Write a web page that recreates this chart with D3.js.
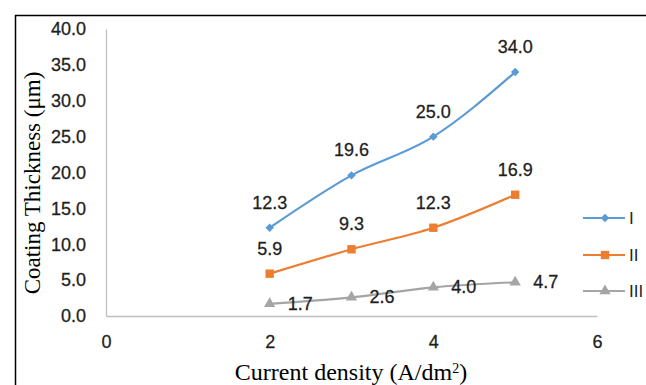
<!DOCTYPE html>
<html><head><meta charset="utf-8">
<script src="https://cdn.jsdelivr.net/npm/d3@7"></script>
<style>body{margin:0;background:#fff}svg{display:block}</style>
</head><body>
<svg id="c" width="646" height="385"></svg>
<script>
const xValues = [2, 3, 4, 5];
const seriesNames = ["I", "II", "III"];
const seriesI = [12.3, 19.6, 25.0, 34.0];
const seriesII = [5.9, 9.3, 12.3, 16.9];
const seriesIII = [1.7, 2.6, 4.0, 4.7];
const xTicks = [0, 2, 4, 6];
const yTicks = [0, 5, 10, 15, 20, 25, 30, 35, 40];
const colors = ["#5B9BD5", "#ED7D31", "#A5A5A5"];
const series = [seriesI, seriesII, seriesIII];

const svg = d3.select("#c");
const x = d3.scaleLinear().domain([0, 6]).range([106, 597]);
const y = d3.scaleLinear().domain([0, 40]).range([316, 29]);
const tickFont = "'Liberation Sans', Arial, sans-serif";
const serif = "'Liberation Serif', 'Times New Roman', serif";

// frame
svg.append("line").attr("x1",15.5).attr("x2",15.5).attr("y1",15).attr("y2",385).attr("stroke","#000").attr("stroke-width",1.5);
svg.append("line").attr("x1",15).attr("x2",646).attr("y1",15.5).attr("y2",15.5).attr("stroke","#000").attr("stroke-width",1.5);

// axes
const yAxis = svg.append("g").attr("transform","translate(106,0)")
  .call(d3.axisLeft(y).tickValues(yTicks).tickSize(0).tickPadding(20).tickFormat(d3.format(".1f")));
const xAxis = svg.append("g").attr("transform","translate(0,316)")
  .call(d3.axisBottom(x).tickValues(xTicks).tickSize(0).tickPadding(19).tickFormat(d3.format("d")));
[yAxis, xAxis].forEach(g => {
  g.select(".domain").attr("stroke","#BFBFBF").attr("stroke-width",1.3);
  g.selectAll("text").attr("font-family",tickFont).attr("font-size",18).attr("fill","#1f1f1f")
    .attr("stroke","#1f1f1f").attr("stroke-width",0.3);
});

// axis titles
svg.append("text").attr("transform","translate(40,183) rotate(-90)").attr("text-anchor","middle")
  .attr("font-family",serif).attr("font-size",23).attr("fill","#000").text("Coating Thickness (μm)");
svg.append("text").attr("x",351).attr("y",380).attr("text-anchor","middle")
  .attr("font-family",serif).attr("font-size",24).attr("fill","#000")
  .html("Current density (A/dm<tspan baseline-shift='super' font-size='14'>2</tspan>)");

const line = d3.line().x((d,i)=>x(xValues[i])).y(d=>y(d)).curve(d3.curveMonotoneX);
const symbols = [d3.symbolSquare, d3.symbolSquare, d3.symbolTriangle];
const symSizes = [36, 70, 55];
const symRot = [45, 0, 0];

series.forEach((vals, si) => {
  svg.append("path").datum(vals).attr("d", line).attr("fill","none")
    .attr("stroke", colors[si]).attr("stroke-width", 2.2);
  svg.selectAll(null).data(vals).enter().append("path")
    .attr("d", d3.symbol().type(symbols[si]).size(symSizes[si]))
    .attr("transform",(d,i)=>`translate(${x(xValues[i])},${y(d)}) rotate(${symRot[si]})`)
    .attr("fill", colors[si]);
  svg.selectAll(null).data(vals).enter().append("text")
    .attr("x",(d,i)=> si===2 ? x(xValues[i]) + 18 : x(xValues[i]))
    .attr("y",(d,i)=> si===2 ? y(d) + 6 : y(d) - 19)
    .attr("text-anchor", si===2 ? "start" : "middle")
    .attr("font-family",tickFont).attr("font-size",18).attr("fill","#1f1f1f")
    .attr("stroke","#1f1f1f").attr("stroke-width",0.3)
    .text(d=>d3.format(".1f")(d));
});

// legend
const legY = [218, 255, 291];
seriesNames.forEach((n, si) => {
  const g = svg.append("g").attr("transform",`translate(0,${legY[si]})`);
  g.append("line").attr("x1",583).attr("x2",625).attr("stroke",colors[si]).attr("stroke-width",2.2);
  g.append("path").attr("d", d3.symbol().type(symbols[si]).size(symSizes[si])).attr("transform",`translate(605,0) rotate(${symRot[si]})`).attr("fill",colors[si]);
  g.append("text").attr("x",629).attr("y",6).attr("font-family",tickFont).attr("font-size",17).attr("fill","#1f1f1f").text(n);
});
</script>
</body></html>
